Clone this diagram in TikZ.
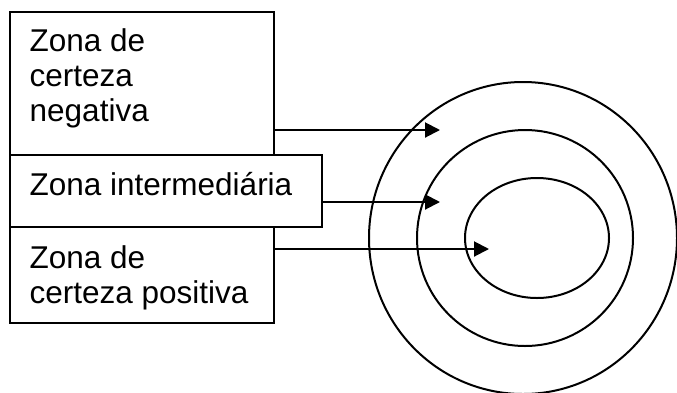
\documentclass[tikz,border=0pt]{standalone}
\usepackage{fontspec}
\setmainfont{Liberation Sans}
\usetikzlibrary{arrows.meta}
\tikzset{
  zonebox/.style={draw, line width=2pt, rectangle, inner sep=0pt, anchor=north west},
  label/.style={anchor=base west, inner sep=0pt, font=\fontsize{31.5}{35}\selectfont},
  ring/.style={draw, line width=2pt},
  pointer/.style={line width=2pt, -{Triangle[length=15pt,width=15pt]}}
}
\begin{document}
\begin{tikzpicture}[x=1pt,y=-1pt]
  \useasboundingbox (0,0) rectangle (677,392);
  % concentric zones
  \draw[ring] (523,238) ellipse [x radius=154pt, y radius=156pt];
  \draw[ring] (525,238) ellipse [x radius=108pt, y radius=108pt];
  \draw[ring] (537,238) ellipse [x radius=72pt, y radius=60pt];
  % zone boxes
  \node[zonebox, minimum width=264pt, minimum height=143pt] (neg) at (9,11) {};
  \node[zonebox, minimum width=264pt, minimum height=96pt] (pos) at (9,226) {};
  \node[zonebox, fill=white, minimum width=312pt, minimum height=72pt] (mid) at (9,154) {};
  % labels
  \node[label] (negA) at (29.5,51.5) {Zona de};
  \node[label] (negB) at (29.5,86.5) {certeza};
  \node[label] (negC) at (29.5,121.5) {negativa};
  \node[label] (midA) at (29.5,195) {Zona intermediária};
  \node[label] (posA) at (29.5,268) {Zona de};
  \node[label] (posB) at (29.5,303) {certeza positiva};
  % pointers into the rings
  \coordinate (tn) at (440,130);
  \coordinate (tm) at (440,202);
  \coordinate (tp) at (489,249);
  \draw[pointer] (neg.east |- tn) -- (tn);
  \draw[pointer] (mid.east |- tm) -- (tm);
  \draw[pointer] (pos.east |- tp) -- (tp);
\end{tikzpicture}
\end{document}
